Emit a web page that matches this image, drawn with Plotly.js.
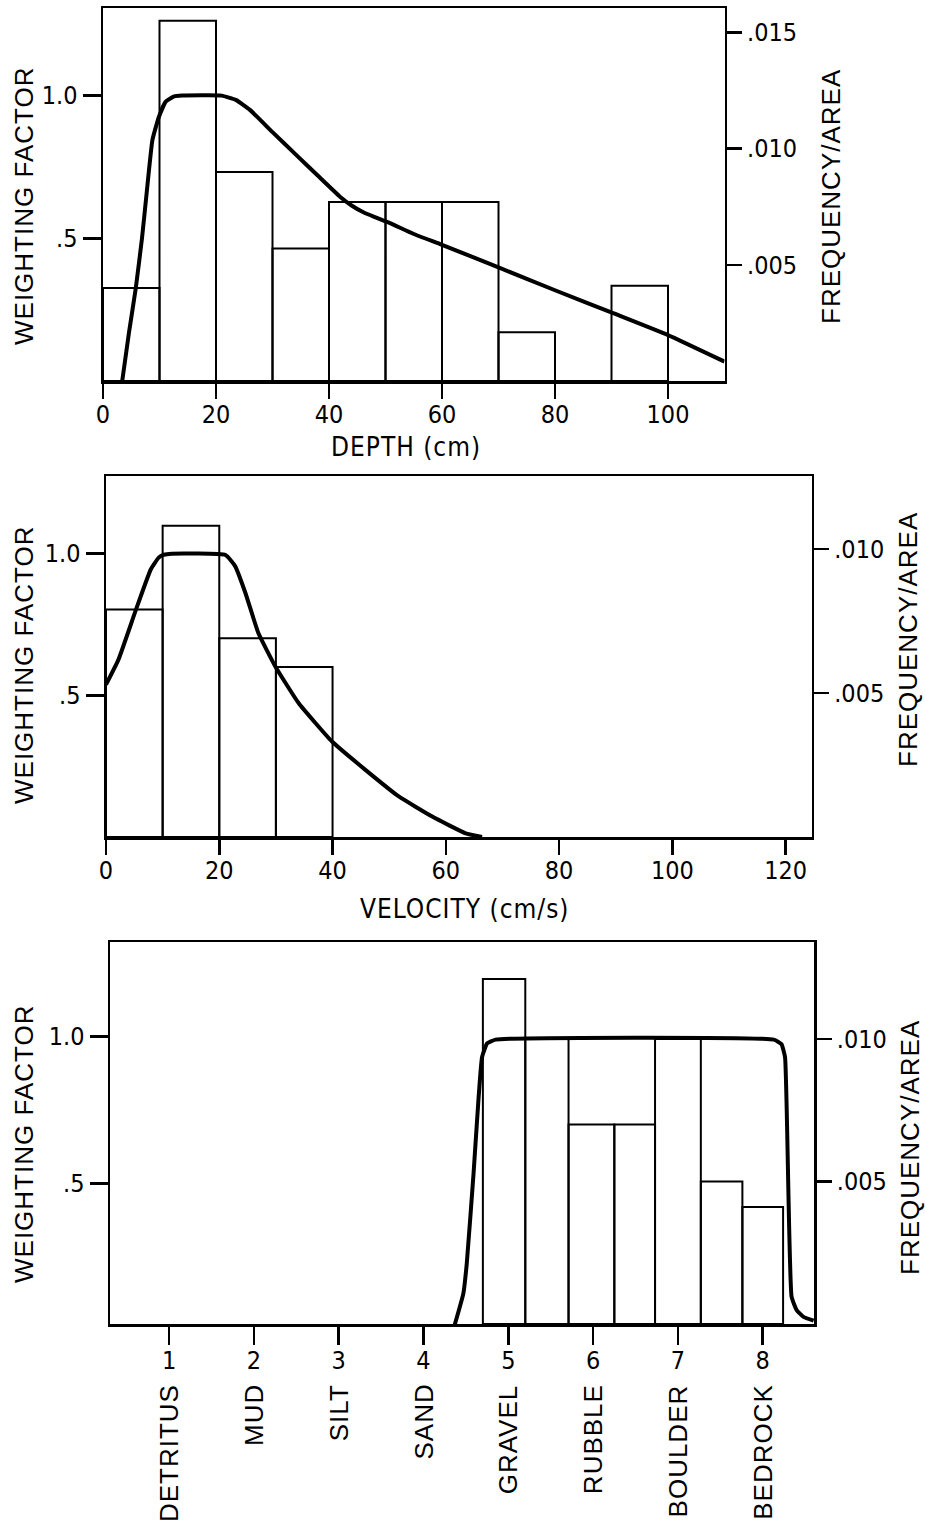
<!DOCTYPE html>
<html><head><meta charset="utf-8">
<script src="https://cdn.plot.ly/plotly-3.0.1.min.js"></script>
<style>
html,body{margin:0;padding:0;background:#fff}#chart{width:925px;height:1526px}
.annotation-text{letter-spacing:1px}
</style>
</head><body><div id="chart"></div>
<script>
// ---------- DATA ----------
// Panel 1: depth
const depthBinEdges = [0,10,20,30,40,50,60,70,80,90,100];
const depthFreq = [0.0040,0.0155,0.0090,0.0057,0.0077,0.0077,0.0077,0.0021,0,0.0041];
const depthCurveX = [3.4,4.6,5.8,6.9,7.6,8.75,9.9,11.1,12.6,14,21,23.5,26,30,34,38,42,44,46,48,50.8,55,60,70,80,90.4,100,110];
const depthCurveY = [0,0.17,0.325,0.5,0.634,0.845,0.926,0.979,0.997,1.0,1.0,0.985,0.95,0.872,0.796,0.72,0.645,0.615,0.592,0.575,0.553,0.515,0.477,0.398,0.318,0.237,0.161,0.068];
const depthTicks = [0,20,40,60,80,100];

// Panel 2: velocity
const velocityBinEdges = [0,10,20,30,40];
const velocityFreq = [0.0079,0.0108,0.0069,0.0059];
const velocityCurveX = [0,2.2,5.2,7.9,9.3,10.2,11.6,21.1,22.8,24.6,26.9,29.9,34,39.9,45.8,51.7,57.6,63.5,66.4];
const velocityCurveY = [0.538,0.626,0.797,0.944,0.986,0.996,1.0,0.995,0.956,0.862,0.72,0.602,0.473,0.337,0.237,0.143,0.072,0.013,0];
const velocityTicks = [0,20,40,60,80,100,120];

// Panel 3: substrate
const substrateCodes = [1,2,3,4,5,6,7,8];
const substrateNames = ['DETRITUS','MUD','SILT','SAND','GRAVEL','RUBBLE','BOULDER','BEDROCK'];
const substrateBinEdges = [4.70,5.20,5.71,6.25,6.73,7.27,7.76,8.24];
const substrateFreq = [0.0121,0.0100,0.0070,0.0070,0.0100,0.0050,0.0041];
const substrateCurveX = [4.35,4.47,4.51,4.59,4.65,4.69,4.75,4.85,8.13,8.22,8.263,8.34,8.40,8.48,8.6];
const substrateCurveY = [0.0,0.125,0.227,0.534,0.795,0.93,0.977,0.99,0.99,0.975,0.93,0.114,0.068,0.045,0.032];

const weightTicks = [0.5,1.0];
const weightTickText = ['.5','1.0'];
const freqTicksA = [0.005,0.010,0.015];
const freqTickTextA = ['.005','.010','.015'];
const freqTicksB = [0.005,0.010];
const freqTickTextB = ['.005','.010'];
const weightTitle = 'WEIGHTING FACTOR';
const freqTitle = 'FREQUENCY/AREA';
const depthTitle = 'DEPTH (cm)';
const velocityTitle = 'VELOCITY (cm/s)';

// ---------- HELPERS ----------
function centers(e){const c=[];for(let i=0;i<e.length-1;i++)c.push((e[i]+e[i+1])/2);return c;}
function widths(e){const w=[];for(let i=0;i<e.length-1;i++)w.push(e[i+1]-e[i]);return w;}

const W=925,H=1526;
const fx=p=>p/W, fy=p=>1-p/H;
const NARROW='"Liberation Sans Narrow","Arial Narrow","DejaVu Sans Condensed",sans-serif';
const SANS='"Liberation Sans",Arial,Helvetica,sans-serif';
const tickFont={family:NARROW,size:25,color:'#000'};
const LW=2.5;

function barTrace(edges,vals,xa,ya){
  return {type:'bar',x:centers(edges),y:vals,width:widths(edges),xaxis:xa,yaxis:ya,
    marker:{color:'rgba(0,0,0,0)',line:{color:'#000',width:2}},hoverinfo:'skip',showlegend:false};
}
function curveTrace(x,y,xa,ya){
  return {type:'scatter',mode:'lines',x:x,y:y,xaxis:xa,yaxis:ya,
    line:{color:'#000',width:4,shape:'spline',smoothing:0.4},hoverinfo:'skip',showlegend:false};
}

const data=[
  barTrace(depthBinEdges,depthFreq,'x','y2'),
  curveTrace(depthCurveX,depthCurveY,'x','y'),
  barTrace(velocityBinEdges,velocityFreq,'x2','y4'),
  curveTrace(velocityCurveX,velocityCurveY,'x2','y3'),
  barTrace(substrateBinEdges,substrateFreq,'x3','y6'),
  curveTrace(substrateCurveX,substrateCurveY,'x3','y5')
];

function xAx(dom,anchor,range,tickvals,ticktext,ticklen){
  const a={domain:dom,anchor:anchor,range:range,tickvals:tickvals,ticks:'outside',ticklen:ticklen||15,tickwidth:LW,
    tickcolor:'#000',showline:true,linecolor:'#000',linewidth:LW,mirror:true,showgrid:false,zeroline:false,
    tickfont:tickFont,ticklabelstandoff:-6,automargin:false,fixedrange:true};
  if(ticktext)a.ticktext=ticktext;
  return a;
}
function yAx(dom,anchor,range,tickvals,ticktext){
  return {domain:dom,anchor:anchor,range:range,tickvals:tickvals,ticktext:ticktext,ticks:'outside',ticklen:18,tickwidth:LW,
    tickcolor:'#000',showline:true,linecolor:'#000',linewidth:LW,showgrid:false,zeroline:false,
    tickfont:tickFont,automargin:false,fixedrange:true};
}
function y2Ax(over,anchor,range,tickvals,ticktext){
  return {overlaying:over,side:'right',anchor:anchor,range:range,tickvals:tickvals,ticktext:ticktext,ticks:'outside',ticklen:15,tickwidth:LW,
    tickcolor:'#000',showline:true,linecolor:'#000',linewidth:LW,showgrid:false,zeroline:false,
    tickfont:tickFont,automargin:false,fixedrange:true};
}

const d1y=[fy(381),fy(8.3)], d2y=[fy(837),fy(476)], d3y=[fy(1324),fy(942)];

function vTitle(text,xpx,ypx){
  return {text:text,x:fx(xpx),xref:'paper',y:fy(ypx),yref:'paper',textangle:-90,
    xanchor:'center',yanchor:'middle',showarrow:false,font:{family:SANS,size:26,color:'#000'}};
}
function hTitle(text,xpx,ypx){
  return {text:text,x:fx(xpx),xref:'paper',y:fy(ypx),yref:'paper',
    xanchor:'center',yanchor:'middle',showarrow:false,font:{family:NARROW,size:26,color:'#000'}};
}
const annotations = substrateNames.map((n,i)=>({
  text:n, x:substrateCodes[i], xref:'x3', y:fy(1382), yref:'paper', textangle:-90,
  xanchor:'center', yanchor:'top', showarrow:false, font:{family:SANS,size:26,color:'#000'}
})).concat([
  vTitle(weightTitle,24,206), vTitle(freqTitle,831,197), hTitle(depthTitle,406,447),
  vTitle(weightTitle,24,665), vTitle(freqTitle,908,640), hTitle(velocityTitle,464,909),
  vTitle(weightTitle,24,1144), vTitle(freqTitle,910,1148)
]);

const layout={
  width:W,height:H,margin:{l:0,r:0,t:0,b:0},paper_bgcolor:'#fff',plot_bgcolor:'rgba(0,0,0,0)',
  showlegend:false,
  xaxis: xAx([fx(103),fx(724.5)],'y',[0,110],depthTicks,null),
  yaxis: yAx(d1y,'x',[0,1.306],weightTicks,weightTickText),
  yaxis2: y2Ax('y','x',[0,0.01604],freqTicksA,freqTickTextA),
  xaxis2: xAx([fx(106),fx(811.7)],'y3',[0,124.6],velocityTicks,null),
  yaxis3: yAx(d2y,'x2',[0,1.274],weightTicks,weightTickText),
  yaxis4: y2Ax('y3','x2',[0,0.01253],freqTicksB,freqTickTextB),
  xaxis3: xAx([fx(110),fx(814.3)],'y5',[0.303,8.608],substrateCodes,substrateCodes.map(String),18),
  yaxis5: yAx(d3y,'x3',[0.0205,1.323],weightTicks,weightTickText),
  yaxis6: y2Ax('y5','x3',[0,0.0134],freqTicksB,freqTickTextB),
  annotations:annotations
};

Plotly.newPlot('chart',data,layout,{staticPlot:true,displayModeBar:false});
</script></body></html>
